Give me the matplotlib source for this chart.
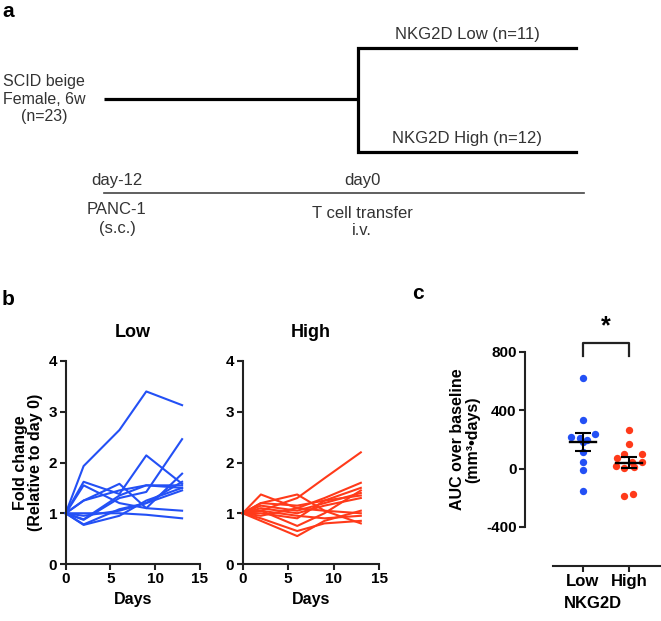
import matplotlib.pyplot as plt
import numpy as np

plt.rcParams['font.family'] = ['Liberation Sans', 'DejaVu Sans']
plt.rcParams['font.weight'] = 'bold'
plt.rcParams['axes.unicode_minus'] = False

# tumour growth, fold change vs day 0
days = [0, 2, 6, 9, 13]
low_curves = [
    [1, 1.93, 2.64, 3.40, 3.13],
    [1, 0.87, 1.30, 1.42, 2.46],
    [1, 1.62, 1.38, 2.14, 1.58],
    [1, 1.25, 1.58, 1.10, 1.78],
    [1, 1.25, 1.45, 1.55, 1.55],
    [1, 0.78, 1.08, 1.20, 1.62],
    [1, 0.77, 0.95, 1.25, 1.50],
    [1, 0.95, 1.05, 1.20, 1.45],
    [1, 1.55, 1.20, 1.10, 1.05],
    [1, 1.00, 1.00, 0.97, 0.90],
    [1, 0.88, 1.35, 1.55, 1.50],
]
high_curves = [
    [1, 1.05, 1.30, 1.69, 2.20],
    [1, 1.37, 1.10, 1.30, 1.60],
    [1, 1.20, 1.37, 1.05, 0.80],
    [1, 0.85, 0.55, 0.85, 1.05],
    [1, 0.90, 0.65, 0.80, 0.85],
    [1, 1.05, 0.75, 1.00, 1.45],
    [1, 1.15, 1.05, 1.20, 1.40],
    [1, 1.00, 0.90, 1.25, 1.50],
    [1, 1.10, 1.00, 1.15, 1.30],
    [1, 0.95, 1.10, 1.05, 1.00],
    [1, 1.20, 1.15, 1.25, 1.35],
    [1, 1.05, 0.95, 0.90, 0.95],
]

# AUC over baseline
auc_low = [621, 333, 240, 216, 207, 198, 179, 116, 47, -12, -151]
auc_high = [266, 169, 102, 98, 71, 45, 45, 18, 14, 5, -171, -191]
jit_low = [0, 0, 0.27, -0.26, -0.07, 0.09, 0, 0, 0, 0, 0]
jit_high = [0, 0, -0.10, 0.27, -0.27, 0.07, 0.27, -0.28, 0.11, -0.10, 0.08, -0.10]
groups = ['Low', 'High']

blue = '#2350f5'
red = '#ff3a1a'
dark = '#222222'

W, H = 661, 621
fig = plt.figure(figsize=(W / 100, H / 100), dpi=100)

def box(x0, x1, ytop, ybot):
    return [x0 / W, 1 - ybot / H, (x1 - x0) / W, (ybot - ytop) / H]

# ---- panel a: schematic, drawn in pixel coords
axa = fig.add_axes([0, 0, 1, 1])
axa.set_xlim(0, W)
axa.set_ylim(H, 0)
axa.axis('off')
tc = '#333333'
fs = 12
kw = dict(fontsize=fs, color=tc, ha='center', va='center', fontweight='normal')
axa.text(2, 2, 'a', fontsize=15, fontweight='bold', va='top', ha='left')
axa.plot([104, 358], [99, 99], color='k', lw=2.3, solid_capstyle='butt')
axa.plot([576, 358, 358, 576], [48, 48, 152, 152], color='k', lw=2.3,
         solid_joinstyle='miter')
axa.plot([104, 584], [193, 193], color='#444444', lw=1.2)
axa.text(467, 35, 'NKG2D Low (n=11)', **kw)
axa.text(467, 138, 'NKG2D High (n=12)', **kw)
axa.text(44, 99, 'SCID beige\nFemale, 6w\n(n=23)', linespacing=1.2,
         **{**kw, 'fontsize': 11.5})
axa.text(117, 181, 'day-12', **kw)
axa.text(362, 181, 'day0', **kw)
axa.text(117, 219, 'PANC-1\n(s.c.)', linespacing=1.25, **kw)
axa.text(362, 222, 'T cell transfer\ni.v.', linespacing=1.2, **kw)
axa.text(2, 290, 'b', fontsize=15, fontweight='bold', va='top', ha='left')
axa.text(412, 284, 'c', fontsize=15, fontweight='bold', va='top', ha='left')


def style(ax):
    for s in ['top', 'right']:
        ax.spines[s].set_visible(False)
    for s in ['left', 'bottom']:
        ax.spines[s].set_linewidth(1.5)
        ax.spines[s].set_color(dark)
    ax.tick_params(width=1.5, length=4, color=dark, labelsize=11, pad=2)


# ---- panel b
for curves, col, x0, x1, title in [(low_curves, blue, 65.7, 200, 'Low'),
                                   (high_curves, red, 242.7, 379, 'High')]:
    ax = fig.add_axes(box(x0, x1, 361, 564))
    for c in curves:
        ax.plot(days, c, color=col, lw=1.5, clip_on=False)
    ax.set_xlim(0, 15)
    ax.set_ylim(0, 4)
    ax.set_xticks([0, 5, 10, 15])
    ax.set_yticks([0, 1, 2, 3, 4])
    style(ax)
    ax.set_title(title, fontsize=13, fontweight='bold', pad=17)
    ax.set_xlabel('Days', fontsize=11.5, fontweight='bold', labelpad=4)
    if title == 'Low':
        ax.set_ylabel('Fold change\n(Relative to day 0)', fontsize=11.5,
                      fontweight='bold', labelpad=4, linespacing=1.0)

# ---- panel c
axc = fig.add_axes(box(525, 661, 351.7, 527))
for i, (vals, jit, col) in enumerate([(auc_low, jit_low, blue),
                                      (auc_high, jit_high, red)]):
    vals = np.array(vals, dtype=float)
    xs = i + np.array(jit)
    axc.scatter(xs, vals, s=28, color=col, zorder=2, clip_on=False, linewidths=0)
    m = vals.mean()
    sem = vals.std(ddof=1) / np.sqrt(len(vals))
    axc.plot([i - 0.28, i + 0.28], [m, m], color='k', lw=1.7, zorder=3)
    axc.errorbar([i], [m], yerr=[sem], color='k', lw=1.5, capsize=6,
                 capthick=1.5, zorder=3, fmt='none')
axc.set_xlim(-1.25, 1.69)
axc.set_ylim(-400, 800)
axc.set_yticks([-400, 0, 400, 800])
axc.set_xticks([0, 1])
axc.set_xticklabels(groups)
style(axc)
axc.spines['bottom'].set_position(('outward', 28))
axc.spines['bottom'].set_bounds(-0.64, 1.69)
axc.tick_params(axis='x', labelsize=12)
axc.set_xlabel('NKG2D', fontsize=12, fontweight='bold', labelpad=5)
axc.set_ylabel('AUC over baseline\n(mm³•days)', fontsize=11.5, fontweight='bold',
               labelpad=4, linespacing=1.0)
# significance bracket
axc.plot([0, 0, 1, 1], [770, 859, 859, 770], color=dark, lw=1.6, clip_on=False)
axc.text(0.5, 975, '*', fontsize=18, fontweight='bold', ha='center', va='center')

fig.savefig('out.png', dpi=100)
